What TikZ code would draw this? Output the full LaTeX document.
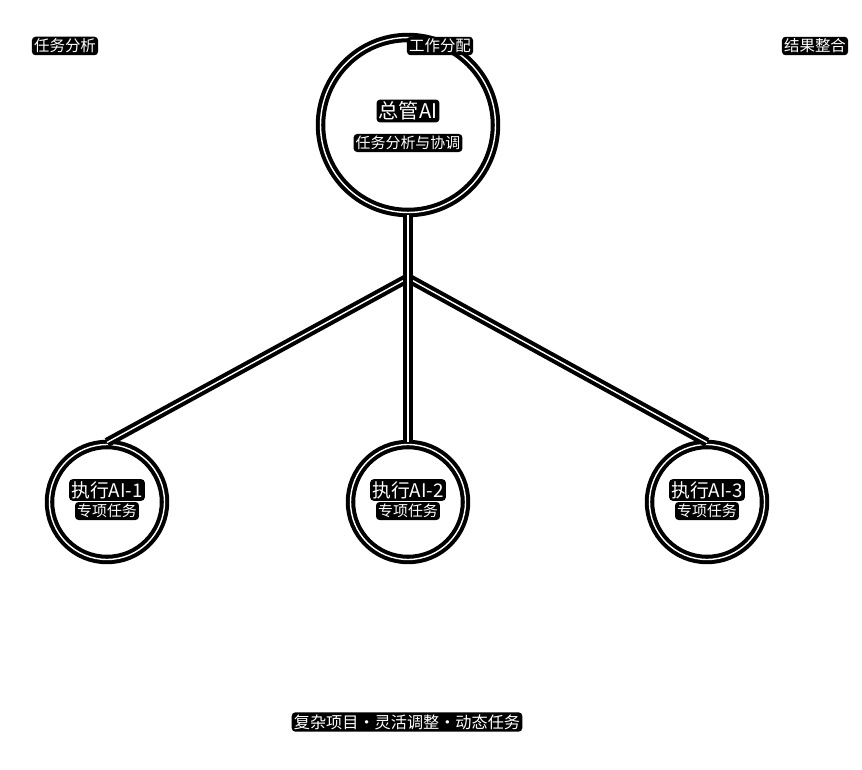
\documentclass[tikz,border=0pt]{standalone}
\usepackage{fontspec}
\setmainfont{Noto Sans CJK SC}
\begin{document}
\begin{tikzpicture}
            [x=0.02cm, y=-0.02cm,
             aiCircle/.style={circle,
                        draw=black,
                        line width=2.3pt,
                        double=white,
                        double distance=0.8pt,
                        inner sep=0pt},
             haloText/.style={fill=black,
                        text=white,
                        inner sep=1.2pt,
                        rounded corners=2pt},
             link/.style={draw=black,
                        line width=2.3pt,
                        double=white,
                        double distance=0.8pt}]

            \fill[white] (0,0) rectangle (862,770);
            \useasboundingbox (0,0) rectangle (862,770);

            \node[aiCircle, minimum size=3.5cm] (manager) at (408,125) {};
            \node[aiCircle, minimum size=2.3cm] (executorOne) at (107,502) {};
            \node[aiCircle, minimum size=2.3cm] (executorTwo) at (408,502) {};
            \node[aiCircle, minimum size=2.3cm] (executorThree) at (707,502) {};

            \coordinate (junction) at (408,278);

            \draw[link] (junction) to (executorOne.north);
            \draw[link] (junction) to (executorThree.north);
            \draw[link] (manager.south) to (executorTwo.north);

            \node[haloText, font=\fontsize{11.5}{13}\selectfont] (managerTitle) at (408,111) {总管AI};
            \node[haloText, font=\fontsize{8.5}{10}\selectfont] (managerSub) at (408,143) {任务分析与协调};

            \node[haloText, font=\fontsize{10.7}{12}\selectfont] (executorOneTitle) at (107,490) {执行AI-1};
            \node[haloText, font=\fontsize{8.5}{10}\selectfont] (executorOneSub) at (107,511) {专项任务};
            \node[haloText, font=\fontsize{10.7}{12}\selectfont] (executorTwoTitle) at (408,490) {执行AI-2};
            \node[haloText, font=\fontsize{8.5}{10}\selectfont] (executorTwoSub) at (408,511) {专项任务};
            \node[haloText, font=\fontsize{10.7}{12}\selectfont] (executorThreeTitle) at (707,490) {执行AI-3};
            \node[haloText, font=\fontsize{8.5}{10}\selectfont] (executorThreeSub) at (707,511) {专项任务};

            \node[haloText, font=\fontsize{8.8}{10}\selectfont] (taskAnalysis) at (65,46) {任务分析};
            \node[haloText, font=\fontsize{8.8}{10}\selectfont] (workDistribution) at (440,46) {工作分配};
            \node[haloText, font=\fontsize{8.8}{10}\selectfont] (resultIntegration) at (815,46) {结果整合};

            \node[haloText, font=\fontsize{9.2}{11}\selectfont] (footer) at (407,722) {复杂项目·灵活调整·动态任务};
        \end{tikzpicture}
\end{document}
